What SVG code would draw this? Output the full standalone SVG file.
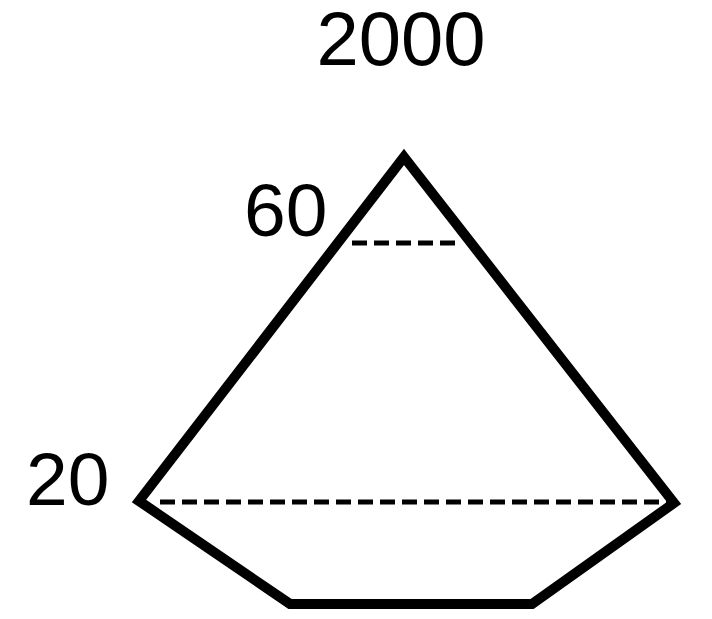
<svg xmlns="http://www.w3.org/2000/svg" width="712" height="619" viewBox="0 0 712 619">
<style>
.t{font-family:"Liberation Sans",Arial,sans-serif;fill:#000}
.d{stroke:#000;stroke-width:5;stroke-dasharray:15 7;fill:none}
</style>
<rect width="712" height="619" fill="#fff"/>
<g id="shape">
<polygon points="404,157 674,503 532,604 290,604 139,501" fill="none" stroke="#000" stroke-width="10" stroke-linejoin="miter"/>
<line class="d" x1="352" y1="243" x2="460" y2="243"/>
<line class="d" x1="160" y1="502" x2="670" y2="502"/>
</g>
<g id="labels">
<text class="t" x="401" y="65" font-size="76" text-anchor="middle">2000</text>
<text class="t" x="244" y="236" font-size="75">60</text>
<text class="t" x="26" y="505" font-size="75">20</text>
</g>
</svg>
